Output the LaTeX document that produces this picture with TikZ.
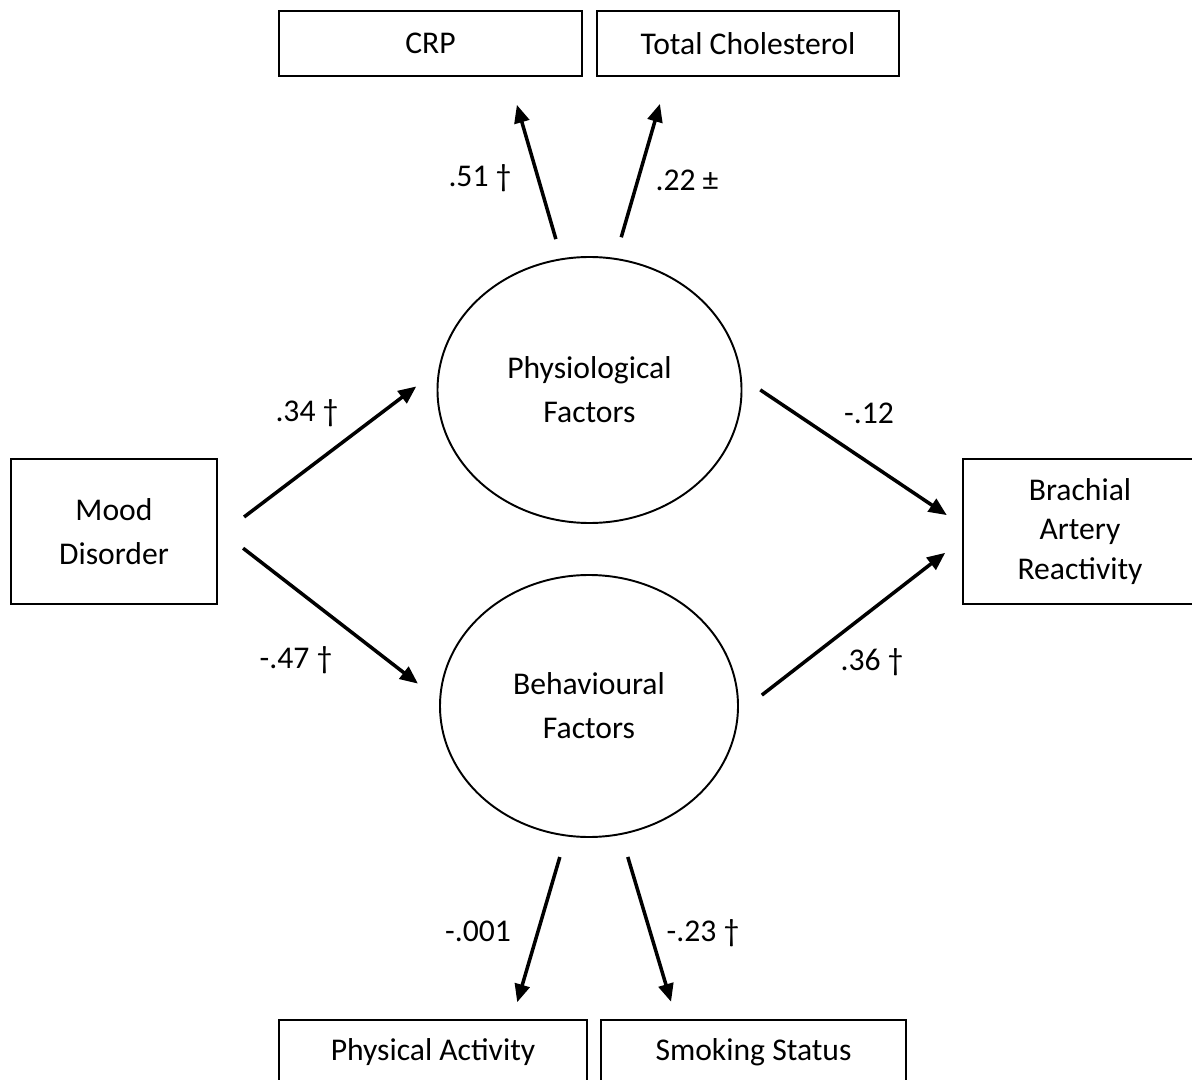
\documentclass[tikz,border=0pt]{standalone}
\usepackage{fontspec}
\setmainfont{Carlito}
\usetikzlibrary{arrows.meta, shapes.geometric}

\begin{document}
\begin{tikzpicture}[
        >={Triangle[length=0.36cm, width=0.3cm]},
        indicator/.style={rectangle, draw, line width=1.4pt, minimum height=1.3cm, inner sep=2pt, outer sep=0pt, align=center, font=\fontsize{18}{22}\selectfont},
        observed/.style={rectangle, draw, line width=1.4pt, minimum height=2.9cm, inner sep=2pt, outer sep=0pt, align=center},
        latent/.style={ellipse, draw, line width=1.1pt, inner sep=2pt, outer sep=0pt, align=center, font=\fontsize{18}{25}\selectfont},
        pathline/.style={->, line width=2pt},
        coef/.style={inner sep=1pt, font=\fontsize{18}{22}\selectfont}
    ]

    % page frame: the outer boxes run past the edge
    \useasboundingbox (0, 0) rectangle (23.84, -21.6);
    \clip (0, 0) rectangle (23.84, -21.6);

    % ==========================================
    % INDICATORS (top and bottom rows)
    % ==========================================
    \node[indicator, minimum width=6.06cm] (crp) at (8.61, -0.87) {CRP};
    \node[indicator, minimum width=6.04cm] (chol) at (14.96, -0.87) {Total Cholesterol};

    \node[indicator, minimum width=6.16cm] (physical) at (8.66, -21.05) {Physical Activity};
    \node[indicator, minimum width=6.1cm] (smoking) at (15.07, -21.05) {Smoking Status};

    % ==========================================
    % LATENT FACTORS
    % ==========================================
    \node[latent, minimum width=6.08cm, minimum height=5.32cm] (physio) at (11.79, -7.8) {Physiological\\Factors};
    \node[latent, minimum width=5.96cm, minimum height=5.24cm] (behav) at (11.78, -14.12) {Behavioural\\Factors};

    % ==========================================
    % PREDICTOR AND OUTCOME
    % ==========================================
    \node[observed, minimum width=4.12cm, font=\fontsize{18}{25}\selectfont] (mood) at (2.28, -10.63) {Mood\\Disorder};
    \node[observed, minimum width=4.68cm, font=\fontsize{18}{22.6}\selectfont] (brach) at (21.6, -10.63) {Brachial\\Artery\\Reactivity};

    % ==========================================
    % PATHS
    % ==========================================
    % measurement paths
    \draw[pathline, shorten <=0.42cm, shorten >=0.6cm] (physio.102) -- ([xshift=1.56cm]crp.south);
    \draw[pathline, shorten <=0.45cm, shorten >=0.58cm] (physio.79) -- ([xshift=-1.6cm]chol.south);
    \draw[pathline, shorten <=0.45cm, shorten >=0.37cm] (behav.260) -- ([xshift=1.58cm]physical.north);
    \draw[pathline, shorten <=0.48cm, shorten >=0.38cm] (behav.284) -- ([xshift=-1.54cm]smoking.north);

    % structural paths
    \draw[pathline, shorten <=0.68cm, shorten >=0.58cm] ([yshift=-0.12cm]mood.east) -- (physio.172);
    \draw[pathline, shorten <=0.66cm, shorten >=0.56cm] ([yshift=0.07cm]mood.east) -- (behav.178);
    \draw[pathline, shorten <=0.47cm, shorten >=0.39cm] (physio.5) -- ([yshift=0.11cm]brach.west);
    \draw[pathline, shorten <=0.61cm, shorten >=0.45cm] (behav.-3) -- ([yshift=-0.15cm]brach.west);

    % ==========================================
    % COEFFICIENTS
    % ==========================================
    \node[coef] (c51) at (9.6, -3.56) {.51 †};
    \node[coef] (c22) at (13.74, -3.6) {.22 ±};
    \node[coef] (c34) at (6.14, -8.26) {.34 †};
    \node[coef] (c47) at (5.92, -13.2) {-.47 †};
    \node[coef] (c12) at (17.38, -8.26) {-.12};
    \node[coef] (c36) at (17.44, -13.24) {.36 †};
    \node[coef] (c001) at (9.56, -18.62) {-.001};
    \node[coef] (c23) at (14.06, -18.66) {-.23 †};

\end{tikzpicture}
\end{document}
